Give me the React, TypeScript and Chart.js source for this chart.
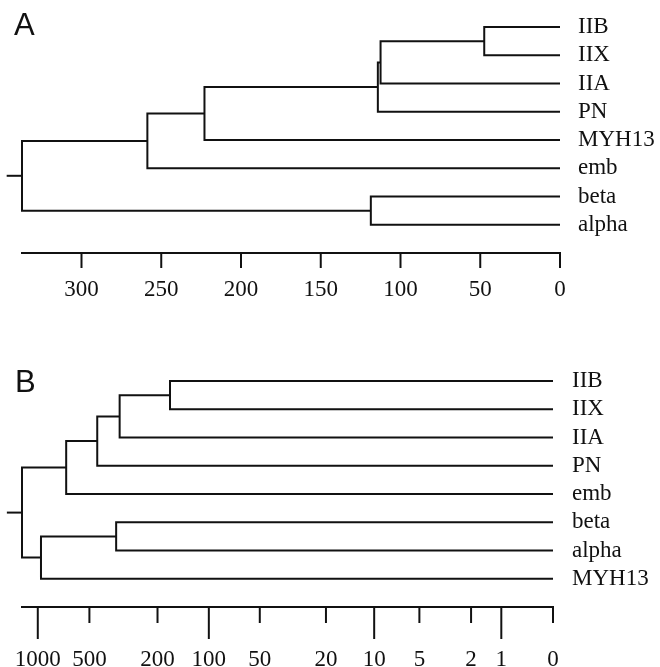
import React, { useEffect, useRef } from 'react';
import { Chart, registerables } from 'chart.js';

Chart.register(...registerables);

// ---------- Panel A (linear distance) ----------
const leavesA = ['IIB', 'IIX', 'IIA', 'PN', 'MYH13', 'emb', 'beta', 'alpha'];
// merge table (negative = leaf index+1, positive = earlier merge number)
const mergeLeftA = [-1, 1, 2, 3, 4, -7, 5];
const mergeRightA = [-2, -3, -4, -5, -6, -8, 6];
const heightsA = [47.5, 112.5, 114.2, 222.9, 258.7, 118.6, 337.3];
const ticksA = [0, 50, 100, 150, 200, 250, 300];
const majorTicksA = [0, 50, 100, 150, 200, 250, 300];

// ---------- Panel B (log distance) ----------
const leavesB = ['IIB', 'IIX', 'IIA', 'PN', 'emb', 'beta', 'alpha', 'MYH13'];
const mergeLeftB = [-1, 1, 2, 3, -6, 5, 4];
const mergeRightB = [-2, -3, -4, -5, -7, -8, 6];
const heightsB = [169, 333, 450, 683, 349, 958, 1236];
const ticksB = [0, 1, 2, 5, 10, 20, 50, 100, 200, 500, 1000];
const majorTicksB = [1, 10, 100, 1000];

const INK = '#111111';
const SERIF = "'Liberation Serif', 'Times New Roman', serif";
const LW = 2;

type Pt = { x: number; y: number };

function buildLinks(
  left: number[],
  right: number[],
  heights: number[],
  tf: (v: number) => number
) {
  const ys: number[] = [];
  const hs: number[] = [];
  const node = (id: number) =>
    id < 0 ? { y: -id - 1, h: tf(0) } : { y: ys[id - 1], h: hs[id - 1] };
  const links: Pt[][] = [];
  for (let i = 0; i < heights.length; i++) {
    const a = node(left[i]);
    const b = node(right[i]);
    const h = tf(heights[i]);
    links.push([
      { x: a.h, y: a.y },
      { x: h, y: a.y },
      { x: h, y: b.y },
      { x: b.h, y: b.y },
    ]);
    ys.push((a.y + b.y) / 2);
    hs.push(h);
  }
  const rootY = ys[ys.length - 1];
  const rootH = hs[hs.length - 1];
  links.push([
    { x: rootH, y: rootY },
    { x: rootH * 1.0285, y: rootY },
  ]);
  return { links, rootH };
}

type PanelProps = {
  leaves: string[];
  left: number[];
  right: number[];
  heights: number[];
  tickVals: number[];
  majors: number[];
  tf: (v: number) => number;
  height: number;
  axisH: number;
  axisW: number;
  labelPad: number;
  leafPad: number;
  minorLen: number;
  majorLen: number;
};

function Dendro(p: PanelProps) {
  const ref = useRef<HTMLCanvasElement | null>(null);
  useEffect(() => {
    if (!ref.current) return;
    const { links, rootH } = buildLinks(p.left, p.right, p.heights, p.tf);
    const tickPlugin = {
      id: 'tickMarks',
      afterDraw(chart: any) {
        const sc = chart.scales.x;
        const ctx = chart.ctx;
        ctx.save();
        ctx.strokeStyle = INK;
        ctx.lineWidth = LW;
        p.tickVals.forEach((v) => {
          const x = sc.getPixelForValue(p.tf(v));
          const len = p.majors.includes(v) ? p.majorLen : p.minorLen;
          ctx.beginPath();
          ctx.moveTo(x, sc.top);
          ctx.lineTo(x, sc.top + len);
          ctx.stroke();
        });
        ctx.restore();
      },
    };
    const chart = new Chart(ref.current, {
      type: 'scatter',
      data: {
        datasets: links.map((pts) => ({
          data: pts,
          showLine: true,
          borderColor: INK,
          borderWidth: LW,
          pointRadius: 0,
          tension: 0,
          fill: false,
          clip: false as any,
        })),
      },
      options: {
        animation: false,
        responsive: false,
        maintainAspectRatio: false,
        events: [],
        layout: { padding: { left: 22, top: 13, right: 0, bottom: 0 } },
        plugins: {
          legend: { display: false },
          tooltip: { enabled: false },
        },
        scales: {
          x: {
            type: 'linear',
            position: 'bottom',
            reverse: true,
            min: 0,
            max: rootH,
            grid: { display: false },
            border: { display: true, color: INK, width: LW },
            afterBuildTicks: (s: any) => {
              s.ticks = p.tickVals.map((v) => ({ value: p.tf(v) }));
            },
            ticks: {
              autoSkip: false,
              maxRotation: 0,
              minRotation: 0,
              padding: p.labelPad,
              color: INK,
              font: { family: SERIF, size: 23 },
              callback: (_v: any, i: number) => String(p.tickVals[i]),
            },
            afterFit: (s: any) => {
              s.height = p.axisH;
              s.paddingLeft = 0;
              s.paddingRight = 0;
            },
          },
          y: {
            type: 'linear',
            position: 'right',
            reverse: true,
            min: -0.5,
            max: 8,
            grid: { display: false },
            border: { display: false },
            afterBuildTicks: (s: any) => {
              s.ticks = p.leaves.map((_l, i) => ({ value: i }));
            },
            ticks: {
              autoSkip: false,
              padding: p.leafPad,
              color: INK,
              font: { family: SERIF, size: 23 },
              callback: (v: any) => p.leaves[Math.round(Number(v))] ?? '',
            },
            afterFit: (s: any) => {
              s.width = p.axisW;
              s.paddingTop = 0;
              s.paddingBottom = 0;
            },
          },
        },
      } as any,
      plugins: [tickPlugin],
    });
    return () => chart.destroy();
  }, []);
  return <canvas ref={ref} width={660} height={p.height} style={{ display: 'block' }} />;
}

const linearT = (v: number) => v;
const logT = (v: number) => Math.log10(v + 1);

export default function App() {
  const letter: React.CSSProperties = {
    position: 'absolute',
    fontFamily: "'Liberation Sans', Arial, sans-serif",
    fontSize: 31,
    lineHeight: 1,
    color: INK,
  };
  return (
    <div
      style={{
        position: 'absolute',
        left: 0,
        top: 0,
        width: 660,
        height: 667,
        background: '#fff',
        overflow: 'hidden',
      }}
    >
      <div style={{ position: 'absolute', left: 0, top: 0 }}>
        <Dendro
          leaves={leavesA}
          left={mergeLeftA}
          right={mergeRightA}
          heights={heightsA}
          tickVals={ticksA}
          majors={majorTicksA}
          tf={linearT}
          height={320}
          axisH={67}
          axisW={100}
          labelPad={15}
          leafPad={10}
          minorLen={15}
          majorLen={15}
        />
      </div>
      <div style={{ position: 'absolute', left: 0, top: 354 }}>
        <Dendro
          leaves={leavesB}
          left={mergeLeftB}
          right={mergeRightB}
          heights={heightsB}
          tickVals={ticksB}
          majors={majorTicksB}
          tf={logT}
          height={313}
          axisH={60}
          axisW={107}
          labelPad={31}
          leafPad={11}
          minorLen={16}
          majorLen={32}
        />
      </div>
      <div style={{ ...letter, left: 14, top: 9 }}>A</div>
      <div style={{ ...letter, left: 15, top: 366 }}>B</div>
    </div>
  );
}
